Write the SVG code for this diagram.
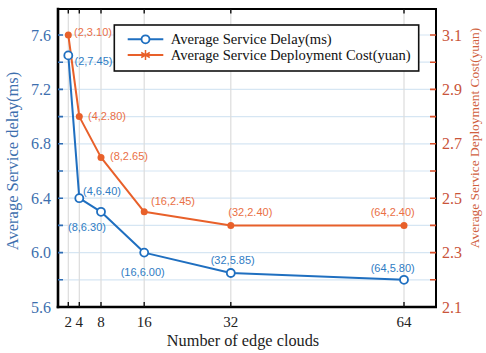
<svg xmlns="http://www.w3.org/2000/svg" width="486" height="353" viewBox="0 0 486 353">
  <style>
    .grid-h { stroke: #d6e6f3; stroke-width: 1.2; }
    .grid-v { stroke: #dcdcdc; stroke-width: 1.2; }
    .tick-l { stroke: #2f6db5; stroke-width: 1.6; }
    .tick-r { stroke: #d9502a; stroke-width: 1.6; }
    .tick-x { stroke: #111; stroke-width: 1.4; }
    .ylab-l { font-family: "Liberation Serif", serif; font-size: 16px; fill: #3d6fae; text-anchor: end; }
    .ylab-r { font-family: "Liberation Serif", serif; font-size: 16px; fill: #c9553a; }
    .xlab { font-family: "Liberation Serif", serif; font-size: 15px; fill: #222; text-anchor: middle; }
    .title { font-family: "Liberation Serif", serif; }
    .pt-blue { font-family: "Liberation Sans", sans-serif; font-size: 11px; fill: #2f7cc4; }
    .pt-orange { font-family: "Liberation Sans", sans-serif; font-size: 11px; fill: #ea6f45; }
    .delay-line { fill: none; stroke: #1f6fc0; stroke-width: 2; stroke-linejoin: round; }
    .cost-line { fill: none; stroke: #e8602a; stroke-width: 2; stroke-linejoin: round; }
    .delay-mark { fill: #fff; stroke: #1f6fc0; stroke-width: 1.8; }
    .cost-mark { fill: #e8602a; stroke: none; }
    .legend-text { font-family: "Liberation Serif", serif; font-size: 14.6px; fill: #111; }
  </style>

  <rect width="486" height="353" fill="#fff"/>

  <!-- grid -->
  <g id="grid">
    <line class="grid-h" x1="58" y1="35" x2="436" y2="35"/>
    <line class="grid-h" x1="58" y1="62.2" x2="436" y2="62.2"/>
    <line class="grid-h" x1="58" y1="89.4" x2="436" y2="89.4"/>
    <line class="grid-h" x1="58" y1="116.6" x2="436" y2="116.6"/>
    <line class="grid-h" x1="58" y1="143.8" x2="436" y2="143.8"/>
    <line class="grid-h" x1="58" y1="171" x2="436" y2="171"/>
    <line class="grid-h" x1="58" y1="198.2" x2="436" y2="198.2"/>
    <line class="grid-h" x1="58" y1="225.4" x2="436" y2="225.4"/>
    <line class="grid-h" x1="58" y1="252.6" x2="436" y2="252.6"/>
    <line class="grid-h" x1="58" y1="279.8" x2="436" y2="279.8"/>
    <line class="grid-v" x1="68.3" y1="9" x2="68.3" y2="307"/>
    <line class="grid-v" x1="79.3" y1="9" x2="79.3" y2="307"/>
    <line class="grid-v" x1="101" y1="9" x2="101" y2="307"/>
    <line class="grid-v" x1="144.2" y1="9" x2="144.2" y2="307"/>
    <line class="grid-v" x1="230.8" y1="9" x2="230.8" y2="307"/>
    <line class="grid-v" x1="404" y1="9" x2="404" y2="307"/>
  </g>

  <!-- axes frame and ticks -->
  <g id="axes">
    <line x1="58" y1="9" x2="436" y2="9" stroke="#000" stroke-width="2"/>
    <line x1="436" y1="8" x2="436" y2="308" stroke="#000" stroke-width="2"/>
    <line x1="58" y1="7.8" x2="58" y2="308.2" stroke="#000" stroke-width="2.6"/>
    <line x1="56.7" y1="307" x2="437" y2="307" stroke="#000" stroke-width="2.6"/>

    <path class="tick-l" d="M58 35h5M58 62.2h5M58 89.4h5M58 116.6h5M58 143.8h5M58 171h5M58 198.2h5M58 225.4h5M58 252.6h5M58 279.8h5"/>
    <path class="tick-r" d="M430 35h6M430 62.2h6M430 89.4h6M430 116.6h6M430 143.8h6M430 171h6M430 198.2h6M430 225.4h6M430 252.6h6M430 279.8h6"/>
    <path class="tick-x" d="M68.3 307v-5M79.3 307v-5M101 307v-5M144.2 307v-5M230.8 307v-5M404 307v-5M68.3 9v4.5M79.3 9v4.5M101 9v4.5M144.2 9v4.5M230.8 9v4.5M404 9v4.5"/>

    <text class="ylab-l" x="51" y="40.5">7.6</text>
    <text class="ylab-l" x="51" y="94.9">7.2</text>
    <text class="ylab-l" x="51" y="149.3">6.8</text>
    <text class="ylab-l" x="51" y="203.7">6.4</text>
    <text class="ylab-l" x="51" y="258.1">6.0</text>
    <text class="ylab-l" x="51" y="312.5">5.6</text>

    <text class="ylab-r" x="442" y="40.5">3.1</text>
    <text class="ylab-r" x="442" y="94.9">2.9</text>
    <text class="ylab-r" x="442" y="149.3">2.7</text>
    <text class="ylab-r" x="442" y="203.7">2.5</text>
    <text class="ylab-r" x="442" y="258.1">2.3</text>
    <text class="ylab-r" x="442" y="312.5">2.1</text>

    <text class="xlab" x="68.3" y="326.5">2</text>
    <text class="xlab" x="79.3" y="326.5">4</text>
    <text class="xlab" x="101" y="326.5">8</text>
    <text class="xlab" x="144.2" y="326.5">16</text>
    <text class="xlab" x="230.8" y="326.5">32</text>
    <text class="xlab" x="404" y="326.5">64</text>

    <text class="title" x="243" y="345.5" text-anchor="middle" fill="#222" style="font-size:16.3px">Number of edge clouds</text>
    <text class="title" transform="rotate(-90)" x="-161" y="17.5" text-anchor="middle" fill="#3d6fae" style="font-size:16.5px">Average Service delay(ms)</text>
    <text class="title" transform="rotate(-90)" x="-138" y="479" text-anchor="middle" fill="#d0603e" style="font-size:13.4px">Average Service Deployment Cost(yuan)</text>
  </g>

  <!-- data series -->
  <g id="connectors">
    <polyline class="delay-line" points="68.3,55.4 79.3,198.2 101,211.8 144.2,252.6 230.8,273 404,279.8"/>
    <polyline class="cost-line" points="68.3,35 79.3,116.6 101,157.4 144.2,211.8 230.8,225.4 404,225.4"/>
  </g>

  <g id="delay-2"><circle class="delay-mark" cx="68.3" cy="55.4" r="4"/><text class="pt-blue" x="74.5" y="65">(2,7.45)</text></g>
  <g id="delay-4"><circle class="delay-mark" cx="79.3" cy="198.2" r="4"/><text class="pt-blue" x="83" y="195">(4,6.40)</text></g>
  <g id="delay-8"><circle class="delay-mark" cx="101" cy="211.8" r="4"/><text class="pt-blue" x="68" y="230.5">(8,6.30)</text></g>
  <g id="delay-16"><circle class="delay-mark" cx="144.2" cy="252.6" r="4"/><text class="pt-blue" x="120.7" y="275.5">(16,6.00)</text></g>
  <g id="delay-32"><circle class="delay-mark" cx="230.8" cy="273" r="4"/><text class="pt-blue" x="210.7" y="264">(32,5.85)</text></g>
  <g id="delay-64"><circle class="delay-mark" cx="404" cy="279.8" r="4"/><text class="pt-blue" x="370.7" y="272">(64,5.80)</text></g>

  <g id="cost-2"><circle class="cost-mark" cx="68.3" cy="35" r="3.5"/><text class="pt-orange" x="74" y="36">(2,3.10)</text></g>
  <g id="cost-4"><circle class="cost-mark" cx="79.3" cy="116.6" r="3.5"/><text class="pt-orange" x="88" y="120">(4,2.80)</text></g>
  <g id="cost-8"><circle class="cost-mark" cx="101" cy="157.4" r="3.5"/><text class="pt-orange" x="110" y="159.5">(8,2.65)</text></g>
  <g id="cost-16"><circle class="cost-mark" cx="144.2" cy="211.8" r="3.5"/><text class="pt-orange" x="151" y="205">(16,2.45)</text></g>
  <g id="cost-32"><circle class="cost-mark" cx="230.8" cy="225.4" r="3.5"/><text class="pt-orange" x="228.3" y="216">(32,2.40)</text></g>
  <g id="cost-64"><circle class="cost-mark" cx="404" cy="225.4" r="3.5"/><text class="pt-orange" x="370.7" y="215.5">(64,2.40)</text></g>

  <!-- legend -->
  <g id="legend">
    <rect x="114.3" y="25" width="304.4" height="46" fill="#fff" stroke="#111" stroke-width="1.6"/>
    <line x1="127.7" y1="39.3" x2="163.3" y2="39.3" stroke="#1f6fc0" stroke-width="2"/>
    <circle class="delay-mark" cx="145.5" cy="39.3" r="4"/>
    <text class="legend-text" x="170.7" y="44">Average Service Delay(ms)</text>
    <line x1="127.7" y1="55" x2="163.3" y2="55" stroke="#e8602a" stroke-width="2"/>
    <path d="M145.5 50v10M141.2 52.5l8.6 5M141.2 57.5l8.6 -5" stroke="#e8602a" stroke-width="1.5"/>
    <text class="legend-text" x="170.7" y="60">Average Service Deployment Cost(yuan)</text>
  </g>
</svg>
